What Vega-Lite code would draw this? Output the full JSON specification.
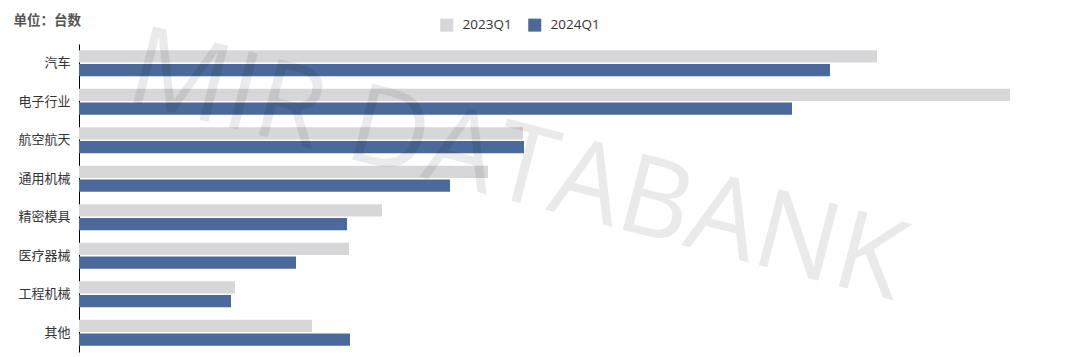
{
  "$schema": "https://vega.github.io/schema/vega-lite/v6.json",
  "autosize": "none",
  "width": 1000,
  "height": 308,
  "padding": {"left": 79, "top": 44, "right": 1, "bottom": 5},
  "background": "#ffffff",
  "config": {"view": {"stroke": null}, "font": "Noto Sans CJK SC"},
  "datasets": {
    "bars": [
      {"category": "汽车", "series": "2023Q1", "value": 798},
      {"category": "汽车", "series": "2024Q1", "value": 751},
      {"category": "电子行业", "series": "2023Q1", "value": 931},
      {"category": "电子行业", "series": "2024Q1", "value": 713},
      {"category": "航空航天", "series": "2023Q1", "value": 444},
      {"category": "航空航天", "series": "2024Q1", "value": 445},
      {"category": "通用机械", "series": "2023Q1", "value": 409},
      {"category": "通用机械", "series": "2024Q1", "value": 371},
      {"category": "精密模具", "series": "2023Q1", "value": 303},
      {"category": "精密模具", "series": "2024Q1", "value": 268},
      {"category": "医疗器械", "series": "2023Q1", "value": 270},
      {"category": "医疗器械", "series": "2024Q1", "value": 217},
      {"category": "工程机械", "series": "2023Q1", "value": 156},
      {"category": "工程机械", "series": "2024Q1", "value": 152},
      {"category": "其他", "series": "2023Q1", "value": 233},
      {"category": "其他", "series": "2024Q1", "value": 271}
    ],
    "mark": [{"label": "MIR DATABANK"}]
  },
  "layer": [
    {
      "data": {"name": "bars"},
      "mark": {"type": "bar"},
      "encoding": {
        "y": {
          "field": "category",
          "type": "nominal",
          "sort": ["汽车", "电子行业", "航空航天", "通用机械", "精密模具", "医疗器械", "工程机械", "其他"],
          "scale": {"paddingInner": 0.32, "paddingOuter": 0.16},
          "axis": {
            "title": "单位：台数",
            "titleAngle": 0,
            "titleAlign": "left",
            "titleBaseline": "middle",
            "titleX": -66,
            "titleY": -24,
            "titleFontSize": 13.5,
            "titleFontWeight": "bold",
            "titleColor": "#555555",
            "titleFont": "Noto Sans CJK SC",
            "domainColor": "#000000",
            "domainWidth": 1,
            "ticks": false,
            "labelFontSize": 13,
            "labelColor": "#333333",
            "labelFont": "Noto Sans CJK SC",
            "labelPadding": 9
          }
        },
        "yOffset": {
          "field": "series",
          "type": "nominal",
          "sort": ["2023Q1", "2024Q1"],
          "scale": {"paddingInner": 0.12, "paddingOuter": 0}
        },
        "x": {
          "field": "value",
          "type": "quantitative",
          "scale": {"domain": [0, 1000], "nice": false},
          "axis": null
        },
        "color": {
          "field": "series",
          "type": "nominal",
          "scale": {"domain": ["2023Q1", "2024Q1"], "range": ["#d7d7d9", "#4b6a9b"]},
          "legend": {
            "title": null,
            "orient": "none",
            "direction": "horizontal",
            "legendX": 361,
            "legendY": -26,
            "padding": 0,
            "symbolType": "square",
            "symbolSize": 169,
            "symbolStrokeWidth": 0,
            "labelFontSize": 13.5,
            "labelFont": "Open Sans",
            "labelColor": "#333333",
            "labelOffset": 9,
            "columnPadding": 16
          }
        }
      }
    },
    {
      "data": {"name": "mark"},
      "mark": {
        "type": "text",
        "font": "Open Sans",
        "fontWeight": "normal",
        "fontSize": 110,
        "angle": 14.6,
        "align": "center",
        "baseline": "alphabetic",
        "fill": "#000000",
        "opacity": 0.08,
        "dy": 22
      },
      "encoding": {
        "x": {"datum": 435},
        "y": {"datum": "通用机械"},
        "text": {"field": "label"}
      }
    }
  ]
}
